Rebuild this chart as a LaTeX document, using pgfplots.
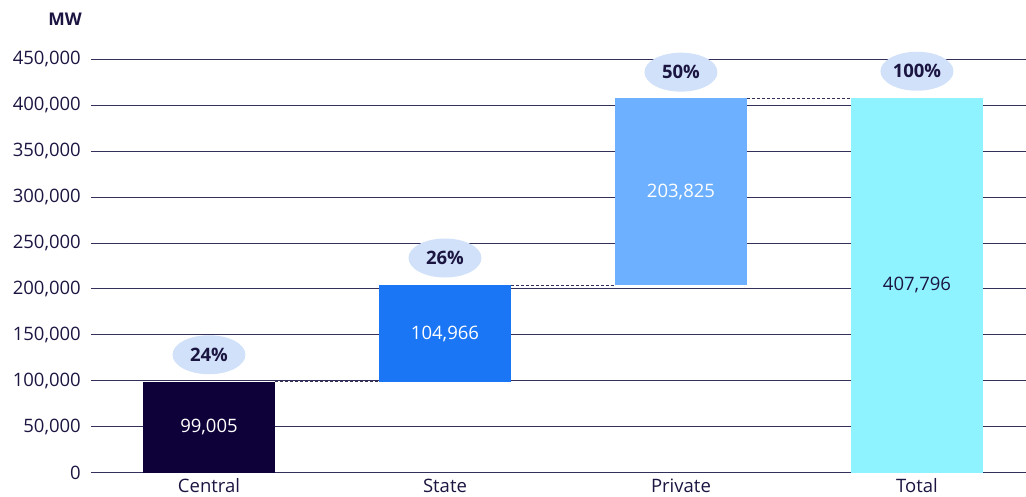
\documentclass[border=0pt]{standalone}
\usepackage{pgfplots}
\pgfplotsset{compat=1.18}
\usetikzlibrary{shapes.geometric}
\usepackage{fontspec}
\setmainfont{Open Sans}
\definecolor{ink}{HTML}{1B1541}
\definecolor{gridc}{HTML}{34305C}
\definecolor{cCentral}{HTML}{0E0038}
\definecolor{cState}{HTML}{1A76F4}
\definecolor{cPrivate}{HTML}{6CB0FF}
\definecolor{cTotal}{HTML}{8EF3FF}
\definecolor{bubble}{HTML}{D1E1F9}
\begin{document}
\begin{tikzpicture}
\useasboundingbox (0,0) rectangle (1026pt,496pt);
\begin{axis}[
  at={(91pt,23.3pt)}, anchor=south west,
  scale only axis, width=935pt, height=413.4pt,
  xmin=-0.5, xmax=3.462, ymin=0, ymax=450000,
  ytick={0,50000,100000,150000,200000,250000,300000,350000,400000,450000},
  xtick={0,1,2,3}, xticklabels={Central,State,Private,Total},
  ymajorgrids, grid style={line width=1pt, color=gridc},
  axis line style={draw=none},
  major tick length=0pt,
  tick label style={font=\fontsize{18.5}{20}\selectfont, text=ink},
  yticklabel style={inner sep=0pt, anchor=east, xshift=-10pt,
    /pgf/number format/fixed, /pgf/number format/precision=0,
    /pgf/number format/1000 sep={,}, /pgf/number format/assume math mode=true},
  xticklabel style={inner sep=0pt, anchor=north, yshift=-6pt},
  scaled y ticks=false,
  clip=false
]
% bars (floating waterfall)
\addplot[fill=cCentral, draw=none] coordinates {(-0.2797,0) (0.2797,0) (0.2797,99005) (-0.2797,99005)} --cycle;
\addplot[fill=cState, draw=none] coordinates {(0.7203,99005) (1.2797,99005) (1.2797,203971) (0.7203,203971)} --cycle;
\addplot[fill=cPrivate, draw=none] coordinates {(1.7203,203971) (2.2797,203971) (2.2797,407796) (1.7203,407796)} --cycle;
\addplot[fill=cTotal, draw=none] coordinates {(2.7203,0) (3.2797,0) (3.2797,407796) (2.7203,407796)} --cycle;
% connectors
\addplot[draw=gridc, line width=0.8pt, dash pattern=on 3pt off 2pt] coordinates {(0.2797,99005) (0.7203,99005)};
\addplot[draw=gridc, line width=0.8pt, dash pattern=on 3pt off 2pt] coordinates {(1.2797,203971) (1.7203,203971)};
\addplot[draw=gridc, line width=0.8pt, dash pattern=on 3pt off 2pt] coordinates {(2.2797,407796) (2.7203,407796)};
% value labels
\addplot[draw=none, mark=none, nodes near coords, point meta=explicit symbolic,
  every node near coord/.append style={anchor=center, text=white, font=\fontsize{18.5}{20}\selectfont}]
  coordinates {(0,49502)[99,005] (1,151488)[104,966] (2,305884)[203,825]};
\addplot[draw=none, mark=none, nodes near coords, point meta=explicit symbolic,
  every node near coord/.append style={anchor=center, text=ink, font=\fontsize{18.5}{20}\selectfont}]
  coordinates {(3,203898)[407,796]};
% percentage bubbles
\addplot[draw=none, mark=none, nodes near coords, point meta=explicit symbolic,
  every node near coord/.append style={anchor=center, ellipse, fill=bubble, minimum width=73pt, minimum height=39pt, inner sep=0pt, text=ink, font=\bfseries\fontsize{18.5}{20}\selectfont}]
  coordinates {(0,128400)[24\%] (1,233700)[26\%] (2,436000)[50\%] (3,437000)[100\%]};
\node[anchor=east, inner sep=0pt, text=ink, font=\bfseries\fontsize{17.5}{20}\selectfont] at (rel axis cs:0,1) [xshift=-9pt, yshift=40pt] {MW};
\end{axis}
\end{tikzpicture}
\end{document}
